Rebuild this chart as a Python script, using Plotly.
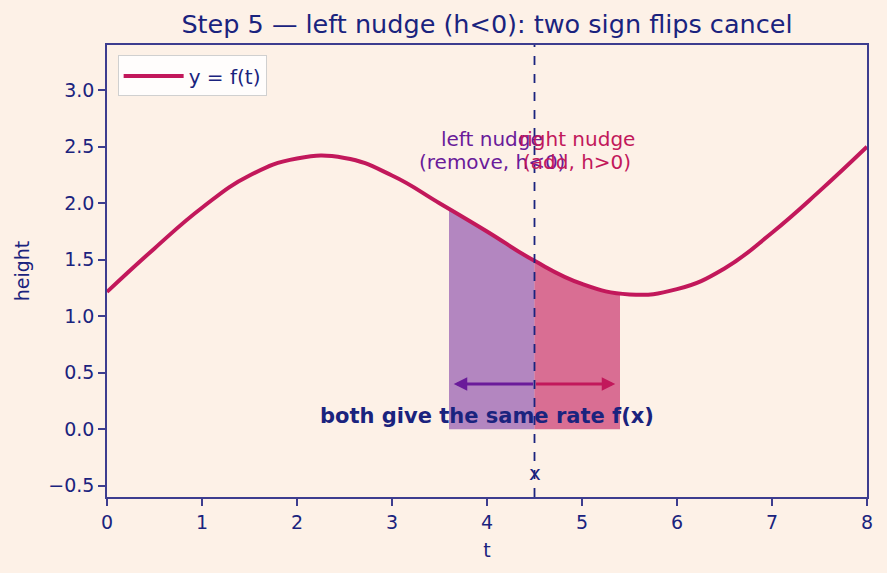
import plotly.graph_objects as go

# curve samples
t_pts = [0.0, 0.5, 1.0, 1.5, 2.0, 2.5, 3.0, 3.5, 4.0, 4.5, 5.0, 5.5, 6.0, 6.5, 7.0, 7.5, 8.0]
f_pts = [1.215, 1.60, 1.96, 2.245, 2.395, 2.40, 2.245, 2.00, 1.75, 1.49, 1.286, 1.193, 1.239, 1.423,
         1.739, 2.107, 2.50]

left_t = [3.6, 4.0, 4.5]
left_f = [1.95, 1.75, 1.49]
right_t = [4.5, 5.0, 5.4]
right_f = [1.49, 1.286, 1.20]

x0 = 4.5
arrow_y = 0.4
left_head = 3.65
right_head = 5.35

NAVY = "#1a237e"
SPINE = "#3d3d8f"
CRIMSON = "#c2185b"
PURPLE = "#6a1b9a"
BG = "#fdf1e7"
FONT = "DejaVu Sans"

fig = go.Figure()

fig.add_trace(go.Scatter(x=left_t, y=left_f, mode="lines", fill="tozeroy",
                         line=dict(color="rgba(106,27,154,0.55)", width=1, shape="spline", smoothing=1.3),
                         fillcolor="rgba(106,27,154,0.5)", showlegend=False, hoverinfo="skip"))
fig.add_trace(go.Scatter(x=right_t, y=right_f, mode="lines", fill="tozeroy",
                         line=dict(color="rgba(194,24,91,0.65)", width=1, shape="spline", smoothing=1.3),
                         fillcolor="rgba(194,24,91,0.6)", showlegend=False, hoverinfo="skip"))
fig.add_trace(go.Scatter(x=t_pts, y=f_pts, mode="lines", name="y = f(t)",
                         line=dict(color=CRIMSON, width=4, shape="spline", smoothing=1.3)))

fig.add_shape(type="line", x0=x0, x1=x0, y0=0, y1=1, xref="x", yref="paper",
              line=dict(color=NAVY, width=1.8, dash="dash"))

# arrows
fig.add_annotation(x=left_head, y=arrow_y, ax=x0, ay=arrow_y, xref="x", yref="y",
                   axref="x", ayref="y", showarrow=True, arrowhead=2, arrowsize=0.9,
                   arrowwidth=3, arrowcolor=PURPLE, text="")
fig.add_annotation(x=right_head, y=arrow_y, ax=x0, ay=arrow_y, xref="x", yref="y",
                   axref="x", ayref="y", showarrow=True, arrowhead=2, arrowsize=0.9,
                   arrowwidth=3, arrowcolor=CRIMSON, text="")

ann_font = dict(family=FONT, size=20)
fig.add_annotation(x=4.05, y=2.566, text="left nudge", showarrow=False, yanchor="middle",
                   font=dict(**ann_font, color=PURPLE))
fig.add_annotation(x=4.05, y=2.365, text="(remove, h<0)", showarrow=False, yanchor="middle",
                   font=dict(**ann_font, color=PURPLE))
fig.add_annotation(x=4.95, y=2.566, text="right nudge", showarrow=False, yanchor="middle",
                   font=dict(**ann_font, color=CRIMSON))
fig.add_annotation(x=4.95, y=2.365, text="(add, h>0)", showarrow=False, yanchor="middle",
                   font=dict(**ann_font, color=CRIMSON))
fig.add_annotation(x=4.0, y=0.115, text="<b>both give the same rate f(x)</b>", showarrow=False,
                   yanchor="middle", font=dict(family=FONT, size=21, color=NAVY))
fig.add_annotation(x=x0, y=-0.39, text="x", showarrow=False, yanchor="middle",
                   font=dict(family=FONT, size=20, color=NAVY))

axis_common = dict(showgrid=False, zeroline=False, showline=True, mirror=True,
                   linecolor=SPINE, linewidth=1.5, ticks="outside", ticklen=7,
                   tickwidth=1.5, tickcolor=SPINE,
                   tickfont=dict(family=FONT, size=19, color=NAVY))

fig.update_layout(
    width=887, height=573,
    margin=dict(l=107, r=20, t=45, b=76),
    paper_bgcolor=BG, plot_bgcolor=BG,
    title=dict(text="Step 5 — left nudge (h<0): two sign flips cancel", x=0.549, xanchor="center",
               y=0.958, yanchor="middle", font=dict(family=FONT, size=25.5, color=NAVY)),
    xaxis=dict(range=[0, 8], tickvals=[0, 1, 2, 3, 4, 5, 6, 7, 8],
               title=dict(text="t", font=dict(family=FONT, size=19, color=NAVY), standoff=12),
               **axis_common),
    yaxis=dict(range=[-0.6, 3.4], tickvals=[-0.5, 0, 0.5, 1.0, 1.5, 2.0, 2.5, 3.0],
               ticktext=["−0.5", "0.0", "0.5", "1.0", "1.5", "2.0", "2.5", "3.0"],
               title=dict(text="height", font=dict(family=FONT, size=19, color=NAVY), standoff=14),
               **axis_common),
    legend=dict(x=0.014, y=0.977, xanchor="left", yanchor="top", itemwidth=60,
                bgcolor="rgba(255,255,255,0.85)", bordercolor="#d0d0d0", borderwidth=1,
                font=dict(family=FONT, size=20, color=NAVY)),
    font=dict(family=FONT),
)

fig.write_html("out.html")
